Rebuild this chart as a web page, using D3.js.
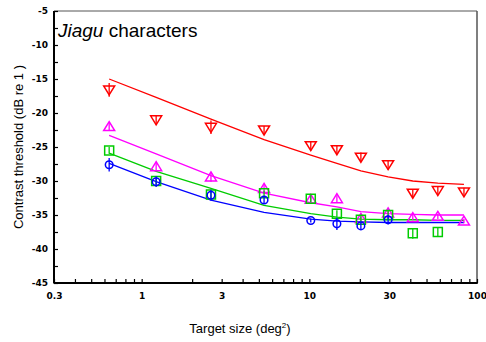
<!DOCTYPE html>
<html>
<head>
<meta charset="utf-8">
<script src="https://cdn.jsdelivr.net/npm/d3@7/dist/d3.min.js"></script>
<style>
  html, body { margin: 0; padding: 0; background: #fff; }
  svg { display: block; }
</style>
</head>
<body>
<svg id="chart" width="486" height="342"></svg>
<script>
// Target sizes (deg^2) at which thresholds were measured
const sizes = [0.64, 1.22, 2.59, 5.37, 10.2, 14.6, 20.3, 29.5, 41.4, 58.4, 83.6];

// Measured contrast thresholds (dB re 1), one array per observer/condition
const redData     = [-16.6, -21.0, -22.1, -22.5, -24.8, -25.4, -26.5, -27.6, -31.8, -31.4, -31.6];
const magentaData = [-22.0, -27.9, -29.4, -31.1, -32.7, -32.6, -35.5, -34.7, -35.4, -35.2, -35.9];
const greenData   = [-25.5, -30.0, -32.0, -31.8, -32.6, -34.8, -35.7, -35.0, -37.7, -37.5, null];
const blueData    = [-27.6, -30.1, -32.1, -32.8, -35.8, -36.3, -36.6, -35.7, null, null, null];

// Standard errors (dB)
const redErr     = [1.0, 0.7, 1.0, 0.6, 0.7, 0.6, 0.7, 0.7, 0.6, 0.6, 0.6];
const magentaErr = [0.6, 0.6, 0.7, 0.5, 0.6, 0.5, 0.5, 0.7, 0.4, 0.4, 0.3];
const greenErr   = [0.5, 0.5, 0.5, 0.4, 0.5, 0.5, 0.5, 0.6, 0.8, 0.6, null];
const blueErr    = [1.0, 0.8, 0.8, 0.6, 0.3, 0.9, 0.5, 0.7, null, null, null];

// Model fits evaluated at the same sizes
const redFit     = [-15.0, -17.7, -20.9, -23.9, -26.2, -27.4, -28.5, -29.4, -30.0, -30.3, -30.5];
const magentaFit = [-23.3, -26.0, -29.2, -31.8, -33.2, -33.8, -34.5, -34.8, -34.9, -35.0, -35.0];
const greenFit   = [-25.9, -28.6, -31.1, -33.6, -34.8, -35.3, -35.6, -35.7, -35.7, -35.8, -35.8];
const blueFit    = [-27.4, -30.1, -32.8, -34.6, -35.6, -35.9, -36.0, -36.1, -36.1, -36.1, -36.1];

// Axis ticks
const xTickLabels = [0.3, 1, 3, 10, 30, 100];
const yTickLabels = [-45, -40, -35, -30, -25, -20, -15, -10, -5];

const series = [
  { color: "#ff0000", shape: "down",   data: redData,     err: redErr,     fit: redFit },
  { color: "#ff00ff", shape: "up",     data: magentaData, err: magentaErr, fit: magentaFit },
  { color: "#00cc00", shape: "square", data: greenData,   err: greenErr,   fit: greenFit },
  { color: "#0000ff", shape: "circle", data: blueData,    err: blueErr,    fit: blueFit }
];

const svg = d3.select("#chart");
const plotL = 54, plotR = 477, plotT = 11, plotB = 283;

const x = d3.scaleLog().domain([0.3, 100]).range([plotL, plotR]);
const y = d3.scaleLinear().domain([-45, -5]).range([plotB, plotT]);

// Frame: light top/right, heavy left/bottom
svg.append("line").attr("x1", plotL).attr("x2", plotR).attr("y1", plotT).attr("y2", plotT)
  .attr("stroke", "#555").attr("stroke-width", 1);
svg.append("line").attr("x1", plotR).attr("x2", plotR).attr("y1", plotT).attr("y2", plotB)
  .attr("stroke", "#555").attr("stroke-width", 1.5);

// Minor log ticks along x
const xMinor = [];
[0.1, 1, 10].forEach(d => { for (let k = 1; k <= 9; k++) { const v = d * k; if (v > 0.3 && v < 100) xMinor.push(v); } });

const xAxis = d3.axisBottom(x)
  .tickValues(xMinor.concat([100]))
  .tickSize(-4)
  .tickFormat("");
const gx = svg.append("g").attr("transform", `translate(0,${plotB})`).call(xAxis);
gx.select(".domain").remove();
gx.selectAll(".tick line").attr("stroke", "#000").attr("stroke-width", 1.2);

const xLab = d3.axisBottom(x).tickValues(xTickLabels).tickSize(0).tickPadding(10)
  .tickFormat(d => String(d));
const gxl = svg.append("g").attr("transform", `translate(0,${plotB})`).call(xLab);
gxl.select(".domain").remove();
gxl.selectAll("text").attr("font-family", "'DejaVu Sans', sans-serif")
  .attr("font-size", 9).attr("font-weight", "bold").attr("fill", "#000");

const yTicks = d3.range(-45, -4.9, 2.5);
const yAxis = d3.axisLeft(y).tickValues(yTicks).tickSize(-4).tickFormat("");
const gy = svg.append("g").attr("transform", `translate(${plotL},0)`).call(yAxis);
gy.select(".domain").remove();
gy.selectAll(".tick line").attr("stroke", "#000").attr("stroke-width", 1.2);

const yLab = d3.axisLeft(y).tickValues(yTickLabels).tickSize(0).tickPadding(6)
  .tickFormat(d => String(d));
const gyl = svg.append("g").attr("transform", `translate(${plotL},0)`).call(yLab);
gyl.select(".domain").remove();
gyl.selectAll("text").attr("font-family", "'DejaVu Sans', sans-serif")
  .attr("font-size", 9).attr("font-weight", "bold").attr("fill", "#000");

svg.append("line").attr("x1", plotL).attr("x2", plotL).attr("y1", plotT).attr("y2", plotB + 0.5)
  .attr("stroke", "#000").attr("stroke-width", 2);
svg.append("line").attr("x1", plotL).attr("x2", plotR + 0.75).attr("y1", plotB).attr("y2", plotB)
  .attr("stroke", "#000").attr("stroke-width", 2);

// Fit curves
const line = d3.line()
  .defined(d => d.v != null)
  .x(d => x(d.s)).y(d => y(d.v));
series.forEach(s => {
  svg.append("path")
    .datum(sizes.map((sz, i) => ({ s: sz, v: s.fit[i] })))
    .attr("d", line)
    .attr("fill", "none")
    .attr("stroke", s.color)
    .attr("stroke-width", 1.3);
});

// Marker shapes
function markerPath(shape) {
  switch (shape) {
    case "down":   return "M-5.5,-4 L5.5,-4 L0,5 Z";
    case "up":     return "M0,-5 L5.5,4 L-5.5,4 Z";
    case "square": return "M-4.5,-4.5 H4.5 V4.5 H-4.5 Z";
    default:       return "M-3.8,0 A3.8,3.8 0 1,0 3.8,0 A3.8,3.8 0 1,0 -3.8,0 Z";
  }
}

series.forEach(s => {
  const pts = sizes.map((sz, i) => ({ s: sz, v: s.data[i], e: s.err[i] })).filter(d => d.v != null);
  const g = svg.append("g");
  // error bars
  g.selectAll("line.err").data(pts).join("line")
    .attr("x1", d => x(d.s)).attr("x2", d => x(d.s))
    .attr("y1", d => y(d.v + d.e)).attr("y2", d => y(d.v - d.e))
    .attr("stroke", s.color).attr("stroke-width", 1.3);
  g.selectAll("path.mk").data(pts).join("path")
    .attr("transform", d => `translate(${x(d.s)},${y(d.v)})`)
    .attr("d", markerPath(s.shape))
    .attr("fill", "none")
    .attr("stroke", s.color)
    .attr("stroke-width", 1.5);
});

// Title inside the plot
const title = svg.append("text")
  .attr("x", 58).attr("y", 37)
  .attr("font-family", "'Liberation Sans', Arial, sans-serif")
  .attr("font-size", 19).attr("fill", "#000");
title.append("tspan").attr("font-style", "italic").text("Jiagu");
title.append("tspan").text(" characters");

// Axis titles
const xt = svg.append("text")
  .attr("x", 240).attr("y", 333)
  .attr("text-anchor", "middle")
  .attr("font-family", "'Liberation Sans', Arial, sans-serif")
  .attr("font-size", 13).attr("fill", "#000");
xt.append("tspan").text("Target size (deg");
xt.append("tspan").attr("font-size", 8).attr("dy", -5).text("2");
xt.append("tspan").attr("dy", 5).text(")");

svg.append("text")
  .attr("transform", "translate(23,147) rotate(-90)")
  .attr("text-anchor", "middle")
  .attr("font-family", "'Liberation Sans', Arial, sans-serif")
  .attr("font-size", 13).attr("fill", "#000")
  .text("Contrast threshold (dB re 1 )");
</script>
</body>
</html>
